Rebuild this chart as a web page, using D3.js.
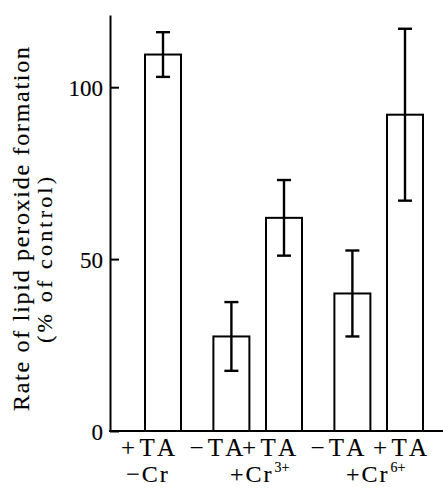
<!DOCTYPE html>
<html>
<head>
<meta charset="utf-8">
<script src="https://cdn.jsdelivr.net/npm/d3@7"></script>
<style>
  body { margin: 0; background: #fff; }
  svg { display: block; }
  svg text { font-family: "Liberation Serif", "Times New Roman", serif; fill: #000; stroke: #000; stroke-width: 0.15px; }
</style>
</head>
<body>
<svg width="443" height="489"></svg>
<script>
// data
const groups = ['−Cr', '+Cr', '+Cr'];
const groupSup = ['', '3+', '6+'];
const barTA = ['+TA', '−TA', '+TA', '−TA', '+TA'];
const barGroup = [0, 1, 1, 2, 2];
const means = [109.5, 27.5, 62, 40, 92];
const errs = [6.5, 10, 11, 12.5, 25];
const yTicks = [0, 50, 100];

function whenLoaded() {
const svg = d3.select('svg');

const y = d3.scaleLinear().domain([0, 121]).range([431, 15]);

// slot positions: 1 unit within a group, 1.3 between groups
const slots = [];
let s = 0;
barGroup.forEach((g, i) => {
  if (i > 0) s += (g === barGroup[i - 1]) ? 1 : 1.3;
  slots.push(s);
});
const x = d3.scaleLinear().domain([0, d3.max(slots)]).range([163, 405]);
const barW = 36;

const axisX = 110;

// y axis, ticks pointing inward
svg.append('g')
    .attr('transform', `translate(${axisX},0)`)
    .call(d3.axisLeft(y).tickValues(yTicks).tickSizeInner(-9).tickSizeOuter(0).tickPadding(7))
    .call(g => g.attr('font-family', null))
    .call(g => g.selectAll('path, line').attr('stroke', '#000').attr('stroke-width', 2))
    .call(g => g.selectAll('text').attr('font-size', 23).attr('dy', '0.36em'));

// x baseline
svg.append('line')
    .attr('x1', axisX - 1).attr('x2', 443)
    .attr('y1', y(0)).attr('y2', y(0))
    .attr('stroke', '#000').attr('stroke-width', 2);

const bars = means.map((m, i) => ({ m, e: errs[i], slot: slots[i], ta: barTA[i] }));

svg.selectAll('rect.bar').data(bars)
  .enter().append('rect')
    .attr('class', 'bar')
    .attr('x', d => x(d.slot) - barW / 2)
    .attr('width', barW)
    .attr('y', d => y(d.m))
    .attr('height', d => y(0) - y(d.m))
    .attr('fill', '#fff')
    .attr('stroke', '#000')
    .attr('stroke-width', 2);

const eg = svg.selectAll('g.err').data(bars)
  .enter().append('g')
    .attr('class', 'err')
    .attr('stroke', '#000')
    .attr('stroke-width', 2.4);

eg.append('line')
    .attr('x1', d => x(d.slot)).attr('x2', d => x(d.slot))
    .attr('y1', d => y(d.m + d.e)).attr('y2', d => y(d.m - d.e));
eg.append('line')
    .attr('x1', d => x(d.slot) - 7).attr('x2', d => x(d.slot) + 7)
    .attr('y1', d => y(d.m + d.e)).attr('y2', d => y(d.m + d.e));
eg.append('line')
    .attr('x1', d => x(d.slot) - 7).attr('x2', d => x(d.slot) + 7)
    .attr('y1', d => y(d.m - d.e)).attr('y2', d => y(d.m - d.e));

// bar labels (first row)
svg.selectAll('text.ta').data(bars)
  .enter().append('text')
    .attr('class', 'ta')
    .attr('x', (d, i) => x(d.slot) - (i === 4 ? 5 : 15))
    .attr('y', 456)
    .attr('text-anchor', 'middle')
    .attr('font-size', 25)
    .attr('textLength', 54)
    .attr('lengthAdjust', 'spacing')
    .text(d => d.ta);

// group labels (second row)
const groupShift = [-15, 2, -3];
const groupData = groups.map((g, gi) => {
  const ss = slots.filter((_, i) => barGroup[i] === gi);
  return { label: g, sup: groupSup[gi], cx: x(d3.mean(ss)) + groupShift[gi] };
});

const gl = svg.selectAll('text.grp').data(groupData)
  .enter().append('text')
    .attr('class', 'grp')
    .attr('x', d => d.cx)
    .attr('y', 482)
    .attr('text-anchor', 'middle')
    .attr('font-size', 24);
gl.each(function(d) {
  const t = d3.select(this);
  t.append('tspan').attr('letter-spacing', 2).text(d.label);
  if (d.sup) {
    t.append('tspan').attr('font-size', 14).attr('dy', -10).attr('dx', 1).text(d.sup);
  }
});

// y axis title
const title = svg.append('g');
title.append('text')
    .attr('transform', 'translate(29,229) rotate(-90)')
    .attr('text-anchor', 'middle')
    .attr('font-size', 24)
    .attr('textLength', 364)
    .attr('lengthAdjust', 'spacing')
    .text('Rate of lipid peroxide formation');
title.append('text')
    .attr('transform', 'translate(52,260) rotate(-90)')
    .attr('text-anchor', 'middle')
    .attr('font-size', 22)
    .attr('textLength', 166)
    .attr('lengthAdjust', 'spacing')
    .text('(% of control)');
}

window.onload = whenLoaded;
</script>
</body>
</html>
